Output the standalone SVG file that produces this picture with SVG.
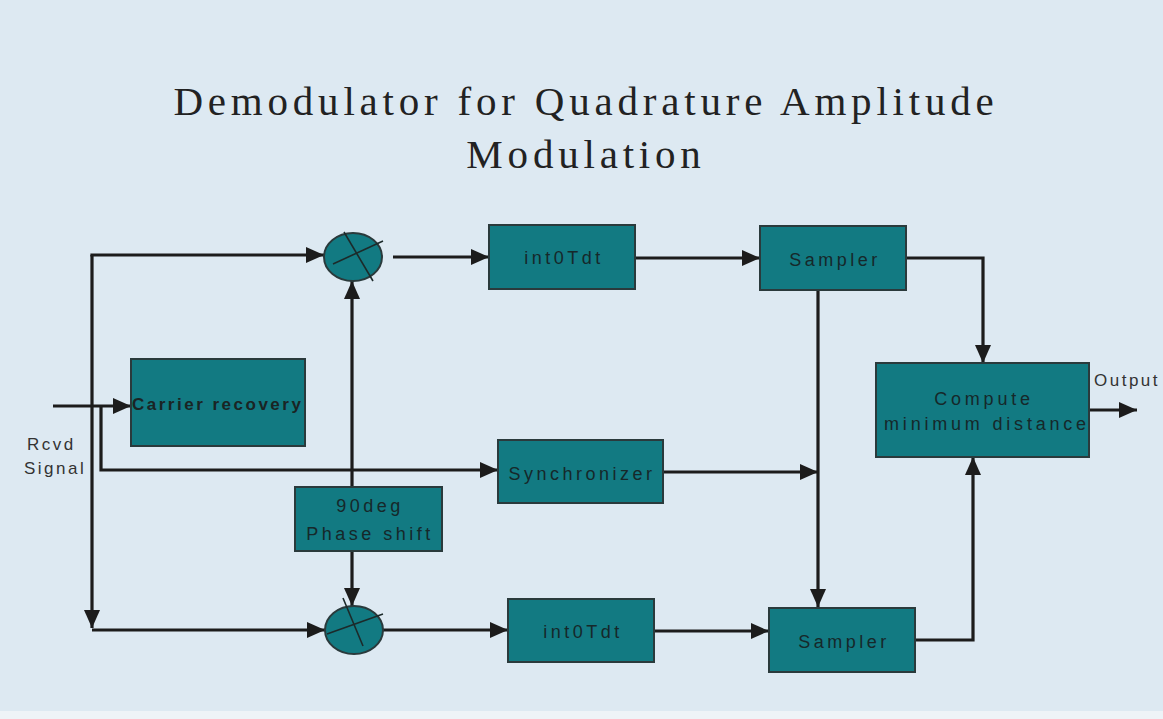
<svg xmlns="http://www.w3.org/2000/svg" width="1163" height="719" viewBox="0 0 1163 719">
<style>
.box{fill:#127a82;stroke:#2a3a3c;stroke-width:2}
.lbl{font-family:"Liberation Sans",Arial,sans-serif;font-size:18px;letter-spacing:3.5px;fill:#16282a;text-anchor:middle}
.side{font-family:"Liberation Sans",Arial,sans-serif;font-size:17px;letter-spacing:2.5px;fill:#333;}
.title{font-family:"Liberation Serif","Times New Roman",serif;font-size:41px;letter-spacing:4.8px;fill:#222;text-anchor:middle}
.wire{fill:none;stroke:#1c1c1c;stroke-width:3.2}
.cross{stroke:#1c2a2a;stroke-width:1.6}
</style>
<defs>
<marker id="ah" markerUnits="userSpaceOnUse" markerWidth="20" markerHeight="18" refX="18" refY="8" orient="auto">
<path d="M0,0 L18,8 L0,16 z" fill="#1c1c1c"/>
</marker>
</defs>
<rect x="0" y="0" width="1163" height="719" fill="#dde9f2"/>
<rect x="0" y="711" width="1163" height="8" fill="#eef3f7"/>
<g id="title">
<text class="title" x="586" y="115">Demodulator for Quadrature Amplitude</text>
<text class="title" x="586" y="168">Modulation</text>
</g>
<g id="connectors">
<path class="wire" d="M53,406 H131" marker-end="url(#ah)"/>
<path class="wire" d="M101,406 V470 H498" marker-end="url(#ah)"/>
<path class="wire" d="M92,255 V628" marker-end="url(#ah)"/>
<path class="wire" d="M90.4,255 H324" marker-end="url(#ah)"/>
<path class="wire" d="M92,630 H325" marker-end="url(#ah)"/>
<path class="wire" d="M352,487 V281" marker-end="url(#ah)"/>
<path class="wire" d="M352,551 V606" marker-end="url(#ah)"/>
<path class="wire" d="M393,257 H489" marker-end="url(#ah)"/>
<path class="wire" d="M635,258 H760" marker-end="url(#ah)"/>
<path class="wire" d="M906,258 H983 V363" marker-end="url(#ah)"/>
<path class="wire" d="M818,290 V607" marker-end="url(#ah)"/>
<path class="wire" d="M663,472 H818" marker-end="url(#ah)"/>
<path class="wire" d="M383,630 H508" marker-end="url(#ah)"/>
<path class="wire" d="M654,631 H769" marker-end="url(#ah)"/>
<path class="wire" d="M915,640 H973 V457" marker-end="url(#ah)"/>
<path class="wire" d="M1089,410 H1137" marker-end="url(#ah)"/>
</g>
<g id="rcvd-signal">
<text class="side" x="27" y="450">Rcvd</text>
<text class="side" x="24" y="474">Signal</text>
</g>
<g id="output-label">
<text class="side" x="1094" y="386">Output</text>
</g>
<g id="carrier-recovery">
<rect class="box" x="131" y="359" width="174" height="87"/>
<text x="132" y="410" style="font-family:'Liberation Sans',Arial,sans-serif;font-size:17px;font-weight:bold;letter-spacing:2.5px;fill:#1a2424">Carrier recovery</text>
</g>
<g id="mixer-top">
<ellipse class="box" cx="353" cy="257" rx="29" ry="24"/>
<line class="cross" x1="344" y1="232" x2="373" y2="281"/>
<line class="cross" x1="333" y1="264" x2="383" y2="241"/>
</g>
<g id="mixer-bottom">
<ellipse class="box" cx="354" cy="630" rx="29" ry="24"/>
<line class="cross" x1="343" y1="598" x2="363" y2="646"/>
<line class="cross" x1="327" y1="634" x2="383" y2="614"/>
</g>
<g id="int-top">
<rect class="box" x="489" y="225" width="146" height="64"/>
<text class="lbl" x="564" y="264">int0Tdt</text>
</g>
<g id="int-bottom">
<rect class="box" x="508" y="599" width="146" height="63"/>
<text class="lbl" x="583" y="638">int0Tdt</text>
</g>
<g id="sampler-top">
<rect class="box" x="760" y="226" width="146" height="64"/>
<text class="lbl" x="835" y="266">Sampler</text>
</g>
<g id="sampler-bottom">
<rect class="box" x="769" y="608" width="146" height="64"/>
<text class="lbl" x="844" y="648">Sampler</text>
</g>
<g id="synchronizer">
<rect class="box" x="498" y="440" width="165" height="63"/>
<text class="lbl" x="582" y="480">Synchronizer</text>
</g>
<g id="phase-shift">
<rect class="box" x="295" y="487" width="147" height="64"/>
<text class="lbl" x="370" y="512">90deg</text>
<text class="lbl" x="370" y="540">Phase shift</text>
</g>
<g id="compute">
<rect class="box" x="876" y="363" width="213" height="94"/>
<text class="lbl" x="984" y="405" style="letter-spacing:3.8px">Compute</text>
<text class="lbl" x="987" y="430" style="letter-spacing:3.8px">minimum distance</text>
</g>
</svg>
